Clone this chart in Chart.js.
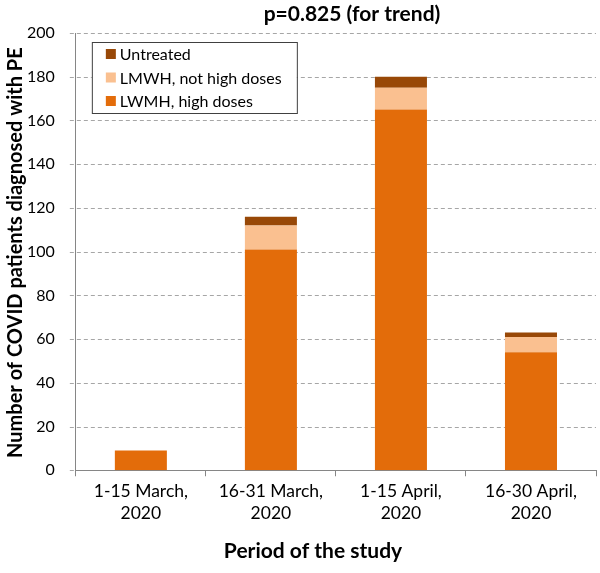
<!DOCTYPE html>
<html>
<head>
<meta charset="utf-8">
<script src="https://cdn.jsdelivr.net/npm/chart.js@4"></script>
<style>
  html, body { margin: 0; padding: 0; background: #fff; }
  #wrap { width: 600px; height: 573px; }
</style>
</head>
<body>
<div id="wrap"><canvas id="peChart"></canvas></div>
<script>
// Data
const periods = [['1-15 March,', '2020'], ['16-31 March,', '2020'], ['1-15 April,', '2020'], ['16-30 April,', '2020']];
const highDoses = [9, 101, 165, 54];
const notHighDoses = [0, 11, 10, 7];
const untreated = [0, 4, 5, 2];
const yTicks = [0, 20, 40, 60, 80, 100, 120, 140, 160, 180, 200];

const FONT = 'Lato, "Open Sans", sans-serif';

// dashed horizontal gridlines (with a short tick left of the axis)
const dashedGrid = {
  id: 'dashedGrid',
  beforeDatasetsDraw(chart) {
    const { ctx, chartArea, scales } = chart;
    ctx.save();
    ctx.strokeStyle = '#a6a6a6';
    ctx.lineWidth = 1;
    ctx.setLineDash([4, 3]);
    scales.y.ticks.forEach(t => {
      const py = Math.round(scales.y.getPixelForValue(t.value)) + 0.5;
      ctx.beginPath();
      ctx.moveTo(chartArea.left - 6, py);
      ctx.lineTo(t.value === 0 ? chartArea.left : chartArea.right, py);
      ctx.stroke();
    });
    ctx.restore();
  }
};

// Legend box inside the plot + titles placed like the original
const boxLegend = {
  id: 'boxLegend',
  afterDraw(chart) {
    const { ctx, chartArea } = chart;
    const x = chartArea.left + 16, y = chartArea.top + 9;
    const w = 205, h = 71;
    ctx.save();
    ctx.fillStyle = '#fff';
    ctx.fillRect(x, y, w, h);
    ctx.strokeStyle = '#404040';
    ctx.lineWidth = 1;
    ctx.strokeRect(x + 0.5, y + 0.5, w, h);
    ctx.font = '16px ' + FONT;
    ctx.textBaseline = 'middle';
    const items = chart.data.datasets.slice().reverse();
    items.forEach((ds, i) => {
      const cy = y + 12 + i * 23.5;
      ctx.fillStyle = ds.backgroundColor;
      ctx.fillRect(x + 14, cy - 5, 10, 10);
      ctx.fillStyle = '#000';
      ctx.fillText(ds.label, x + 28, cy + 1);
    });

    ctx.fillStyle = '#000';
    ctx.textAlign = 'center';
    ctx.textBaseline = 'middle';
    ctx.font = 'bold 21px ' + FONT;
    ctx.fillText('p=0.825 (for trend)', 352, 14);
    ctx.fillText('Period of the study', 313, 551);

    ctx.font = 'bold 20px ' + FONT;
    ctx.translate(16, (chartArea.top + chartArea.bottom) / 2 + 1);
    ctx.rotate(-Math.PI / 2);
    ctx.fillText('Number of COVID patients diagnosed with PE', 0, 0);
    ctx.restore();
  }
};

new Chart(document.getElementById('peChart'), {
  type: 'bar',
  data: {
    labels: periods,
    datasets: [
      { label: 'LWMH, high doses', data: highDoses, backgroundColor: '#E36C0A' },
      { label: 'LMWH, not high doses', data: notHighDoses, backgroundColor: '#FAC090' },
      { label: 'Untreated', data: untreated, backgroundColor: '#984807' }
    ]
  },
  options: {
    responsive: true,
    maintainAspectRatio: false,
    animation: false,
    categoryPercentage: 0.4,
    barPercentage: 1,
    layout: { padding: { top: 33, right: 4, left: 14, bottom: 45 } },
    plugins: {
      legend: { display: false },
      tooltip: { enabled: false }
    },
    scales: {
      x: {
        stacked: true,
        border: { color: '#868686' },
        grid: { offset: true, drawOnChartArea: false, drawTicks: true, tickLength: 6, color: '#868686' },
        ticks: { color: '#000', font: { family: FONT, size: 17.5, lineHeight: 1.25 }, maxRotation: 0, padding: 4 }
      },
      y: {
        stacked: true,
        min: yTicks[0],
        max: yTicks[yTicks.length - 1],
        border: { display: true, color: '#868686' },
        grid: { display: false },
        ticks: { color: '#000', font: { family: FONT, size: 16 }, padding: 13, stepSize: yTicks[1] - yTicks[0] }
      }
    }
  },
  plugins: [dashedGrid, boxLegend]
});
</script>
</body>
</html>
